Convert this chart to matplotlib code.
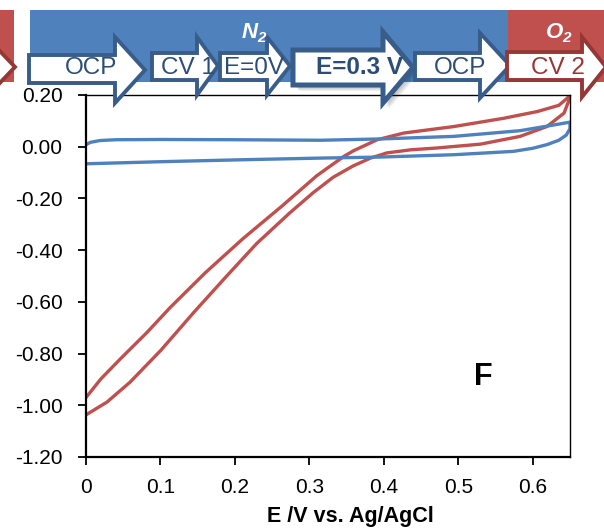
import matplotlib
matplotlib.use("Agg")
import matplotlib.pyplot as plt
from matplotlib.patches import Polygon, Rectangle

plt.rcParams['font.family'] = ['Liberation Sans', 'DejaVu Sans']
plt.rcParams['axes.unicode_minus'] = False

# CV in O2 (red) : lower branch then upper branch
red_low_x = [0.0, 0.028, 0.059, 0.10, 0.145, 0.189, 0.229, 0.274, 0.305, 0.332,
             0.359, 0.382, 0.404, 0.436, 0.471, 0.53, 0.583, 0.619, 0.642, 0.65]
red_low_y = [-1.037, -0.988, -0.911, -0.789, -0.640, -0.500, -0.375, -0.255, -0.178, -0.118,
             -0.074, -0.044, -0.024, -0.012, -0.005, 0.010, 0.040, 0.078, 0.130, 0.190]
red_up_x = [0.648, 0.635, 0.606, 0.561, 0.494, 0.427, 0.391, 0.359, 0.346, 0.310,
            0.263, 0.211, 0.160, 0.113, 0.082, 0.046, 0.02, 0.0]
red_up_y = [0.192, 0.160, 0.136, 0.110, 0.078, 0.053, 0.027, -0.016, -0.038, -0.112,
            -0.230, -0.355, -0.488, -0.622, -0.718, -0.821, -0.898, -0.970]

# CV in N2 (blue)
blue_low_x = [0.0, 0.1, 0.216, 0.315, 0.395, 0.494, 0.574, 0.60, 0.619, 0.635, 0.645, 0.65, 0.65]
blue_low_y = [-0.066, -0.058, -0.050, -0.044, -0.040, -0.031, -0.018, -0.006, 0.008, 0.025,
              0.045, 0.070, 0.095]
blue_up_x = [0.65, 0.62, 0.583, 0.494, 0.395, 0.315, 0.2, 0.1, 0.04, 0.019, 0.006, 0.0]
blue_up_y = [0.095, 0.080, 0.062, 0.040, 0.030, 0.025, 0.027, 0.028, 0.027, 0.024, 0.017, 0.008]

xticks = [0, 0.1, 0.2, 0.3, 0.4, 0.5, 0.6]
xtick_labels = ["0", "0.1", "0.2", "0.3", "0.4", "0.5", "0.6"]
yticks = [0.2, 0.0, -0.2, -0.4, -0.6, -0.8, -1.0, -1.2]

steps = ["OCP", "CV 1", "E=0V", "E=0.3 V", "OCP", "CV 2"]

RED = '#C0504D'
BLUE = '#4F81BD'
DBLUE = '#385D8A'
DRED = '#953735'

W, H = 604, 531
fig = plt.figure(figsize=(W / 100, H / 100), dpi=100)
ax = fig.add_axes([86 / W, 1 - 457 / H, 484 / W, 362 / H])

ax.plot(red_low_x + red_up_x, red_low_y + red_up_y, color=RED, lw=2.4)
ax.plot(blue_low_x + blue_up_x, blue_low_y + blue_up_y, color=BLUE, lw=2.4)

ax.set_xlim(0, 0.65)
ax.set_ylim(-1.2, 0.2)
ax.set_xticks(xticks)
ax.set_xticklabels(xtick_labels)
ax.set_yticks(yticks)
ax.set_yticklabels(["%.2f" % v for v in yticks])
ax.tick_params(axis='both', direction='out', length=6, width=1.3, labelsize=15)
ax.tick_params(axis='y', pad=11)
ax.tick_params(axis='x', pad=9)
for s in ['left', 'bottom']:
    ax.spines[s].set_linewidth(1.6)
for s in ['top', 'right']:
    ax.spines[s].set_linewidth(1.0)

ax.set_xlabel("E /V vs. Ag/AgCl", fontsize=15.5, fontweight='bold')
ax.xaxis.set_label_coords(0.547, -0.135)
ax.text(0.534, -0.89, "F", fontsize=22, fontweight='bold', ha='center', va='center')

# banner overlay in pixel coordinates
ov = fig.add_axes([0, 0, 1, 1], zorder=5)
ov.set_xlim(0, W)
ov.set_ylim(H, 0)
ov.axis('off')

ov.add_patch(Rectangle((-2, 10), 16, 72, color=RED, lw=0))
ov.add_patch(Rectangle((30, 10), 478, 72, color=BLUE, lw=0))
ov.add_patch(Rectangle((508, 10), 100, 72, color=RED, lw=0))


def block_arrow(x0, xb, xt, bt, bb, ht, hb, edge, lw=2.8):
    mid = (ht + hb) / 2
    pts = [(x0, bt), (xb, bt), (xb, ht), (xt, mid), (xb, hb), (xb, bb), (x0, bb)]
    return Polygon(pts, closed=True, facecolor='white', edgecolor=edge,
                   lw=lw, joinstyle='miter')


# arrow geometry: body start, body end, tip, body top/bottom, head top/bottom
geo = [(29, 115, 145, 55, 83, 37, 103),
       (152, 197, 218, 53, 80, 37, 95),
       (220, 267, 290, 53, 80, 37, 95),
       (293, 383, 413, 50, 85, 32, 103),
       (415, 480, 510, 53, 80, 33, 98),
       (507, 582, 606, 52, 80, 37, 97)]

# partial arrow at left edge
ov.add_patch(block_arrow(-40, -4, 15, 55, 80, 47, 87, DRED))

# soft shadow behind E=0.3 V
g = geo[3]
for k in range(4):
    d = 3 + k
    sh = Polygon([(g[0] + d, g[3] + d), (g[1] + d, g[3] + d), (g[1] + d, g[5] + d),
                  (g[2] + d, (g[5] + g[6]) / 2 + d), (g[1] + d, g[6] + d),
                  (g[1] + d, g[4] + d), (g[0] + d, g[4] + d)],
                 closed=True, facecolor='black', alpha=0.06, lw=0)
    ov.add_patch(sh)

for i, g in enumerate(geo):
    edge = DRED if i == 5 else DBLUE
    lw = 3.6 if i == 3 else 2.8
    ov.add_patch(block_arrow(*g, edge, lw=lw))

txt_x = [91, 188, 254, 359, 460, 558]
for i, lab in enumerate(steps):
    col = DRED if i == 5 else '#2C4D75'
    wt = 'bold' if i == 3 else 'normal'
    ov.text(txt_x[i], 68, lab, fontsize=17.5, color=col, fontweight=wt,
            ha='center', va='center')

for x, lab in [(250, "N"), (555, "O")]:
    ov.text(x, 32, lab, fontsize=16, color='white', fontweight='bold',
            fontstyle='italic', ha='center', va='center')
    ov.text(x + 11, 38, "2", fontsize=11, color='white', fontweight='bold',
            fontstyle='italic', ha='center', va='center')

fig.savefig("out.png", dpi=100)
